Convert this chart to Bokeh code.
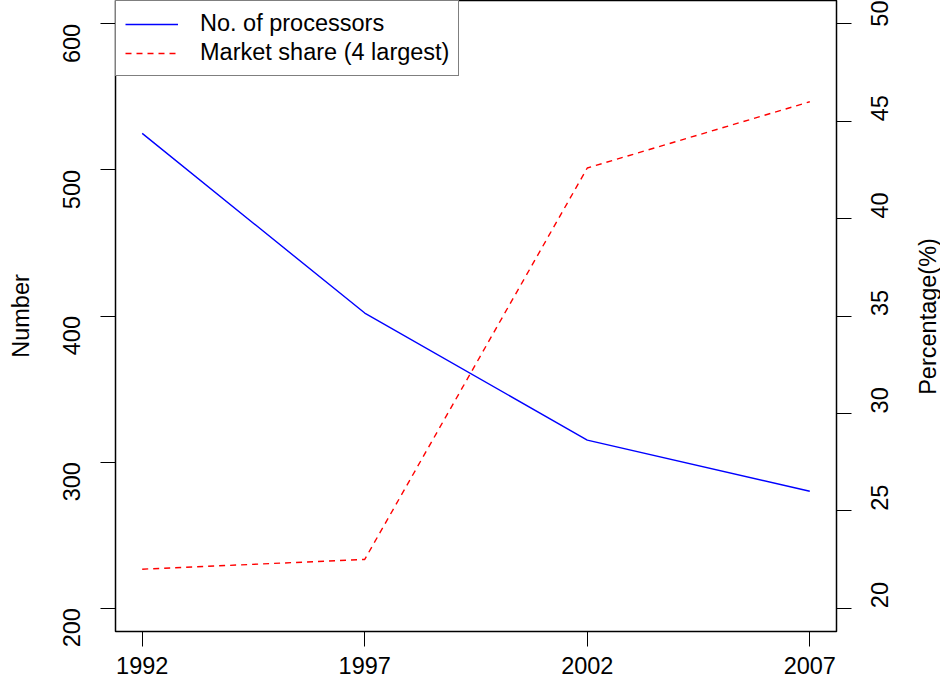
import math
from bokeh.plotting import figure
from bokeh.layouts import row
from bokeh.models import Range1d, LinearAxis, FixedTicker, Legend, LegendItem
from bokeh.core.properties import value
from bokeh.embed import file_html
from bokeh.resources import INLINE

years = [1992, 1997, 2002, 2007]
processors = [525, 402, 315, 280]
market_share = [22.0, 22.5, 42.6, 46.0]
x_ticks = [1992, 1997, 2002, 2007]
left_ticks = [200, 300, 400, 500, 600]
right_ticks = [20, 25, 30, 35, 40, 45, 50]
left_title = "Number"
right_title = "Percentage(%)"

FONT = "Liberation Sans"
FS = "23.5px"

W, H = 915, 683
BL, BR, BT, BB = 115, 79, 0, 52

p = figure(width=W, height=H, output_backend="svg", toolbar_location=None,
           x_range=Range1d(1991.4, 2007.6), y_range=Range1d(184, 616),
           min_border_left=BL, min_border_right=BR, min_border_top=BT,
           min_border_bottom=BB, x_axis_location="below", y_axis_location="left")
p.extra_y_ranges = {"pct": Range1d(18.8, 51.2)}
p.xgrid.visible = False
p.ygrid.visible = False
p.outline_line_color = "black"
p.outline_line_width = 1.5
p.outline_line_alpha = 1.0
p.background_fill_color = "white"
p.border_fill_color = "white"

right_axis = LinearAxis(y_range_name="pct")
p.add_layout(right_axis, "right")


def style(ax, ticks):
    ax.ticker = FixedTicker(ticks=ticks)
    ax.axis_line_color = None
    ax.major_tick_in = 0
    ax.major_tick_out = 15
    ax.major_tick_line_color = "black"
    ax.major_tick_line_width = 1
    ax.minor_tick_line_color = None
    ax.major_label_text_font = FONT
    ax.major_label_text_font_size = FS
    ax.major_label_text_color = "black"
    ax.axis_label_text_font = FONT
    ax.axis_label_text_font_size = FS
    ax.axis_label_text_font_style = "normal"
    ax.axis_label_text_color = "black"


xa = p.xaxis[0]
style(xa, x_ticks)
xa.major_label_standoff = 10

la = p.yaxis[0]
style(la, left_ticks)
la.axis_label = left_title
la.major_label_orientation = math.pi / 2
la.major_label_standoff = 29
la.axis_label_standoff = 18

style(right_axis, right_ticks)
right_axis.major_label_orientation = math.pi / 2
right_axis.major_label_standoff = 28

r1 = p.line(years, processors, line_color="#0000FF", line_width=1.4)
r2 = p.line(years, market_share, line_color="#FF0000", line_width=1.4,
            line_dash="6 5", y_range_name="pct")

legend = Legend(items=[LegendItem(label="No. of processors", renderers=[r1]),
                       LegendItem(label="Market share (4 largest)", renderers=[r2])],
                location="top_left", margin=0, padding=9, spacing=2,
                glyph_width=53, label_standoff=22,
                label_text_font=FONT, label_text_font_size=FS,
                label_text_color="black",
                border_line_color="black", border_line_width=1.5,
                background_fill_color="white", background_fill_alpha=1.0)
p.add_layout(legend)

# narrow companion panel holding the right axis title
W2 = 25
p2 = figure(width=W2, height=H, output_backend="svg", toolbar_location=None,
            tools="", x_range=Range1d(0, W2), y_range=Range1d(0, H),
            min_border=0, x_axis_location=None, y_axis_location=None)
p2.xgrid.visible = False
p2.ygrid.visible = False
p2.outline_line_color = None
p2.background_fill_color = "white"
p2.border_fill_color = "white"
p2.text(x=[W2 / 2], y=[H - 342], text=[right_title], angle=math.pi / 2,
        text_align="center", text_baseline="middle",
        text_font=value(FONT), text_font_size=value(FS), text_color="black")

layout = row(p, p2, spacing=0)
open("out.html", "w").write(file_html(layout, INLINE))
